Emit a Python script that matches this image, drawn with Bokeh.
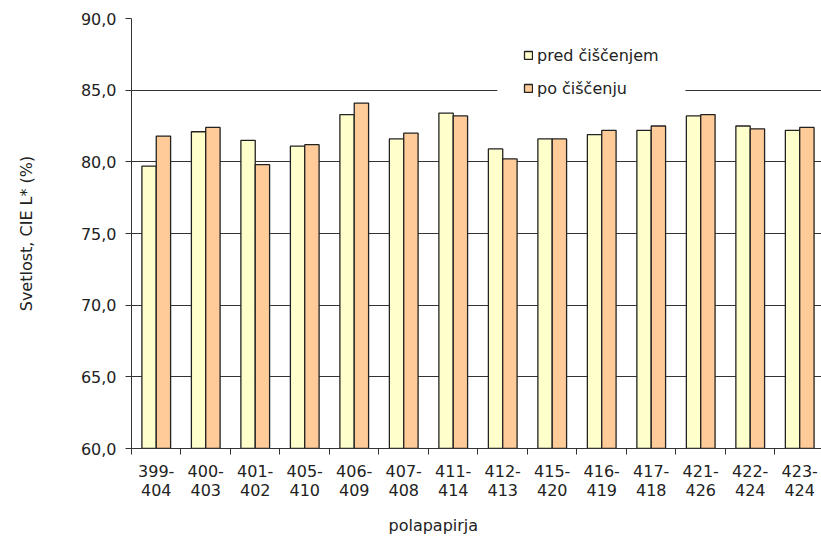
from bokeh.plotting import figure
from bokeh.models import FixedTicker, Legend, LegendItem, BoxAnnotation, Title
from bokeh.embed import file_html
from bokeh.resources import INLINE

categories = ["399-\n404", "400-\n403", "401-\n402", "405-\n410", "406-\n409", "407-\n408",
              "411-\n414", "412-\n413", "415-\n420", "416-\n419", "417-\n418", "421-\n426",
              "422-\n424", "423-\n424"]
pred = [79.7, 82.1, 81.5, 81.1, 83.3, 81.6, 83.4, 80.9, 81.6, 81.9, 82.2, 83.2, 82.5, 82.2]
po = [81.8, 82.4, 79.8, 81.2, 84.1, 82.0, 83.2, 80.2, 81.6, 82.2, 82.5, 83.3, 82.3, 82.4]
y_ticks = [60, 65, 70, 75, 80, 85, 90]
series_names = ["pred čiščenjem", "po čiščenju"]
x_title = "polapapirja"
y_title = "Svetlost, CIE L* (%)"

FONT = "DejaVu Sans"
TXT = "#222222"

idx = list(range(len(categories)))

p = figure(width=821, height=545, output_backend="svg", toolbar_location=None,
           x_range=(-0.5, 13.44), y_range=(60, 90),
           min_border_left=131, min_border_top=18, min_border_right=0, min_border_bottom=97)
p.outline_line_color = None
p.background_fill_color = "white"

bw = 0.29
r1 = p.vbar(x=[i - bw / 2 for i in idx], top=pred, bottom=60, width=bw,
            fill_color="#FFFFCC", line_color="#222222", line_width=1.3)
r2 = p.vbar(x=[i + bw / 2 for i in idx], top=po, bottom=60, width=bw,
            fill_color="#FFCC99", line_color="#222222", line_width=1.3)

# axes
p.xgrid.grid_line_color = None
p.ygrid.grid_line_color = "#333333"
p.ygrid.grid_line_width = 1
p.ygrid.ticker = FixedTicker(ticks=y_ticks)

xa = p.xaxis[0]
xa.ticker = FixedTicker(ticks=idx, minor_ticks=[i - 0.5 for i in idx] + [13.5])
xa.major_label_overrides = {i: c for i, c in zip(idx, categories)}
xa.major_tick_out = 0
xa.major_tick_in = 0
xa.minor_tick_out = 6
xa.minor_tick_in = 0
xa.minor_tick_line_color = "#333333"
xa.axis_line_color = "#333333"
xa.major_label_standoff = 7
xa.major_label_text_font = FONT
xa.major_label_text_font_size = "16px"
xa.major_label_text_line_height = 1.05
xa.major_label_text_color = TXT

ya = p.yaxis[0]
ya.ticker = FixedTicker(ticks=y_ticks)
ya.major_label_overrides = {t: f"{t:.1f}".replace(".", ",") for t in y_ticks}
ya.minor_tick_line_color = None
ya.major_tick_out = 6
ya.major_tick_in = 0
ya.major_tick_line_color = "#333333"
ya.axis_line_color = "#333333"
ya.major_label_standoff = 9
ya.major_label_text_font = FONT
ya.major_label_text_font_size = "16px"
ya.major_label_text_color = TXT
ya.axis_label = y_title
ya.axis_label_text_font = FONT
ya.axis_label_text_font_size = "16px"
ya.axis_label_text_font_style = "normal"
ya.axis_label_text_color = TXT
ya.axis_label_standoff = 42

# x-axis title (off-centre, as in the reference)
p.add_layout(Title(text=x_title, align="left", offset=257, standoff=21,
                   text_font=FONT, text_font_size="16px", text_font_style="normal",
                   text_color=TXT), "below")

# white legend background (Excel-style legend box hiding the gridline)
p.add_layout(BoxAnnotation(left=6.89, right=10.69, top=89.2, bottom=84.3,
                           fill_color="white", fill_alpha=1.0, line_color=None))

legend = Legend(items=[LegendItem(label=series_names[0], renderers=[r1]),
                       LegendItem(label=series_names[1], renderers=[r2])],
                location=(392, 350), padding=0, spacing=13,
                glyph_width=10, glyph_height=10, label_height=20, label_standoff=4,
                label_text_font=FONT, label_text_font_size="16px", label_text_color=TXT,
                border_line_color=None, background_fill_alpha=0.0,
                margin=0)
p.add_layout(legend)

open("out.html", "w").write(file_html(p, INLINE))
